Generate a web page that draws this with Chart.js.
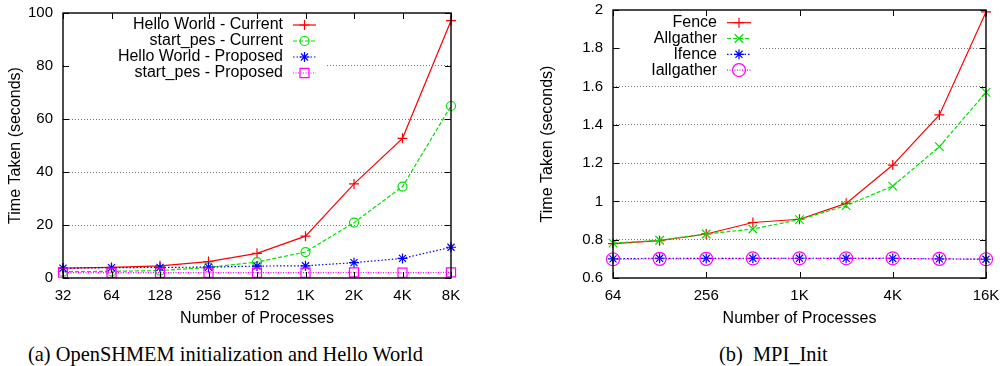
<!DOCTYPE html>
<html>
<head>
<meta charset="utf-8">
<script src="https://cdn.jsdelivr.net/npm/chart.js@4.4.1/dist/chart.umd.min.js"></script>
<style>
  body { margin: 0; background: #fff; width: 1000px; height: 366px; overflow: hidden; position: relative; }
  canvas { position: absolute; top: 0; }
  #shmem { left: 0; }
  #mpi { left: 500px; }
  .cap { position: absolute; top: 343px; font-family: "Liberation Serif", "Times New Roman", serif; font-size: 20.4px; white-space: pre; }
</style>
</head>
<body>
<canvas id="shmem" width="500" height="330"></canvas>
<canvas id="mpi" width="500" height="330"></canvas>
<div class="cap" style="left:28px">(a) OpenSHMEM initialization and Hello World</div>
<div class="cap" style="left:719px">(b)  MPI_Init</div>
<script>
// (a) OpenSHMEM
const shmemProcs = ['32', '64', '128', '256', '512', '1K', '2K', '4K', '8K'];
const helloCurrent = [3.7, 4.0, 4.6, 6.2, 9.3, 15.8, 35.5, 52.7, 97.1];
const startCurrent = [2.4, 2.5, 2.8, 4.0, 6.0, 9.8, 20.9, 34.5, 64.9];
const helloProposed = [3.7, 3.9, 4.0, 4.1, 4.5, 4.6, 5.8, 7.4, 11.6];
const startProposed = [2.0, 2.0, 2.0, 2.0, 2.0, 2.0, 2.1, 2.0, 2.1];

// (b) MPI_Init
const mpiProcs = ['64', '128', '256', '512', '1K', '2K', '4K', '8K', '16K'];
const fence = [0.78, 0.795, 0.83, 0.89, 0.907, 0.99, 1.19, 1.452, 1.99];
const allgather = [0.782, 0.797, 0.83, 0.856, 0.905, 0.978, 1.08, 1.286, 1.57];
const ifence = [0.70, 0.703, 0.702, 0.703, 0.703, 0.703, 0.702, 0.70, 0.698];
const iallgather = [0.698, 0.70, 0.70, 0.702, 0.703, 0.703, 0.703, 0.70, 0.698];

const SANS = '"Liberation Sans", Arial, Helvetica, sans-serif';

function marker(ctx, style, x, y, r, color) {
  ctx.save();
  ctx.strokeStyle = color;
  ctx.lineWidth = 1.2;
  ctx.setLineDash([]);
  ctx.beginPath();
  if (style === 'cross') {
    ctx.moveTo(x - r, y); ctx.lineTo(x + r, y);
    ctx.moveTo(x, y - r); ctx.lineTo(x, y + r);
  } else if (style === 'crossRot') {
    const d = r * Math.SQRT1_2;
    ctx.moveTo(x - d, y - d); ctx.lineTo(x + d, y + d);
    ctx.moveTo(x - d, y + d); ctx.lineTo(x + d, y - d);
  } else if (style === 'star') {
    const d = r * Math.SQRT1_2;
    ctx.moveTo(x - r, y); ctx.lineTo(x + r, y);
    ctx.moveTo(x, y - r); ctx.lineTo(x, y + r);
    ctx.moveTo(x - d, y - d); ctx.lineTo(x + d, y + d);
    ctx.moveTo(x - d, y + d); ctx.lineTo(x + d, y - d);
  } else if (style === 'rect') {
    const s = r * Math.SQRT1_2;
    ctx.rect(x - s, y - s, 2 * s, 2 * s);
  } else {
    ctx.arc(x, y, r, 0, Math.PI * 2);
  }
  ctx.stroke();
  ctx.restore();
}

// gnuplot look: opaque key with text on the left, inward ticks, box border
const gnuFrame = {
  id: 'gnuFrame',
  afterDraw(chart, args, opts) {
    const { ctx, chartArea: a } = chart;
    const x = chart.scales.x, y = chart.scales.y;
    const k = opts.key;
    ctx.save();
    ctx.fillStyle = '#fff';
    ctx.fillRect(k.boxX, k.boxY, k.boxW, k.boxH);
    ctx.font = '16px ' + SANS;
    ctx.textAlign = 'right';
    ctx.textBaseline = 'middle';
    chart.data.datasets.forEach((ds, i) => {
      const yy = k.y + i * k.dy;
      ctx.fillStyle = '#000';
      ctx.fillText(ds.label, k.textX, yy);
      ctx.strokeStyle = ds.borderColor;
      ctx.lineWidth = ds.borderWidth;
      ctx.setLineDash(ds.borderDash || []);
      ctx.beginPath();
      ctx.moveTo(k.x0, yy);
      ctx.lineTo(k.x1, yy);
      ctx.stroke();
      ctx.setLineDash([]);
      marker(ctx, ds.pointStyle, (k.x0 + k.x1) / 2, yy, ds.pointRadius, ds.borderColor);
    });

    ctx.strokeStyle = '#000';
    ctx.lineWidth = 1;
    ctx.beginPath();
    x.ticks.forEach((t, i) => {
      if (!t.label) return;
      const px = Math.round(x.getPixelForTick(i)) + 0.5;
      ctx.moveTo(px, a.bottom); ctx.lineTo(px, a.bottom - 6);
      ctx.moveTo(px, a.top); ctx.lineTo(px, a.top + 6);
    });
    y.ticks.forEach((t, i) => {
      const py = Math.round(y.getPixelForTick(i)) + 0.5;
      ctx.moveTo(a.left, py); ctx.lineTo(a.left + 6, py);
      ctx.moveTo(a.right, py); ctx.lineTo(a.right - 6, py);
    });
    ctx.stroke();
    ctx.lineWidth = 1.4;
    ctx.strokeRect(a.left, a.top, a.right - a.left, a.bottom - a.top);
    ctx.restore();
  }
};

function series(label, data, color, dash, style, radius) {
  return {
    label, data,
    borderColor: color,
    backgroundColor: 'rgba(0,0,0,0)',
    borderWidth: 1.2,
    borderDash: dash,
    pointStyle: style,
    pointRadius: radius,
    pointBorderWidth: 1.2,
    pointBackgroundColor: 'rgba(0,0,0,0)',
    tension: 0
  };
}

function build(id, labels, datasets, cfg) {
  const n = datasets.length;
  datasets.forEach((d, i) => { d.order = n - i; });
  return new Chart(document.getElementById(id), {
    type: 'line',
    data: { labels, datasets },
    options: {
      responsive: false,
      animation: false,
      layout: { padding: { top: cfg.top, right: cfg.right, left: 0, bottom: 0 } },
      plugins: {
        legend: { display: false },
        tooltip: { enabled: false },
        gnuFrame: { key: cfg.key }
      },
      scales: {
        x: {
          type: 'category',
          offset: false,
          grid: { display: false, drawTicks: false },
          border: { display: false },
          ticks: {
            autoSkip: false, maxRotation: 0, padding: 9, color: '#000',
            font: { family: SANS, size: 15 },
            callback: (v, i) => (i % cfg.every === 0 ? labels[i] : '')
          },
          title: {
            display: true, text: 'Number of Processes', color: '#000',
            font: { family: SANS, size: 16 }, padding: { top: 0, bottom: 2 }
          },
          afterFit: s => { s.height = 330 - 278; s.paddingLeft = 0; s.paddingRight = 0; }
        },
        y: {
          min: cfg.min, max: cfg.max,
          grid: {
            drawTicks: false, lineWidth: 1,
            color: c => (c.index === 0 || c.index === c.scale.ticks.length - 1) ? 'rgba(0,0,0,0)' : '#777'
          },
          border: { display: false, dash: [1, 2] },
          ticks: {
            stepSize: cfg.step, padding: 10, color: '#000',
            font: { family: SANS, size: 15 },
            callback: v => String(parseFloat(v.toFixed(1)))
          },
          title: {
            display: true, text: 'Time Taken (seconds)', color: '#000',
            font: { family: SANS, size: 16 }, padding: { top: cfg.titleX - 9.6, bottom: 0 }
          },
          afterFit: s => { s.width = cfg.left; s.paddingTop = 0; s.paddingBottom = 0; }
        }
      }
    },
    plugins: [gnuFrame]
  });
}

build('shmem', shmemProcs, [
  series('Hello World - Current', helloCurrent, '#ff0000', [], 'cross', 5),
  series('start_pes - Current', startCurrent, '#00e000', [4, 2], 'circle', 4.5),
  series('Hello World - Proposed', helloProposed, '#0000ff', [1.5, 2], 'star', 5),
  series('start_pes - Proposed', startProposed, '#ff00ff', [1, 1.5], 'rect', 6.4)
], {
  top: 13, right: 49, left: 63, titleX: 16, min: 0, max: 100, step: 20, every: 1,
  key: { boxX: 66, boxY: 15, boxW: 260, boxH: 67, textX: 283, x0: 293, x1: 316, y: 25, dy: 16 }
});

build('mpi', mpiProcs, [
  series('Fence', fence, '#ff0000', [], 'cross', 5),
  series('Allgather', allgather, '#00e000', [4, 2], 'crossRot', 6),
  series('Ifence', ifence, '#0000ff', [1.5, 2], 'star', 5),
  series('Iallgather', iallgather, '#ff00ff', [1, 1.5], 'circle', 6.5)
], {
  top: 10, right: 14, left: 113, titleX: 48, min: 0.6, max: 2, step: 0.2, every: 2,
  key: { boxX: 120, boxY: 12, boxW: 140, boxH: 66, textX: 217, x0: 227, x1: 251, y: 22.7, dy: 15.8 }
});
</script>
</body>
</html>
